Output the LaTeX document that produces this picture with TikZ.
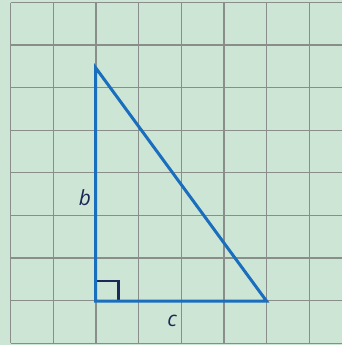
\documentclass[tikz,border=0pt]{standalone}
\usepackage{fontspec}
\setmainfont{Open Sans}
\definecolor{bg}{HTML}{CDE5D4}
\definecolor{gridc}{HTML}{8A8E8A}
\definecolor{tri}{HTML}{1A6EBE}
\definecolor{navy}{HTML}{1C2856}
\tikzset{
  gridline/.style={draw=gridc, line width=1.2bp},
  side/.style={draw=tri, line width=3bp, line join=miter},
  rightmark/.style={draw=navy, line width=2.2bp},
  lbl/.style={text=navy, font=\fontsize{21}{21}\selectfont\itshape, inner sep=0pt}
}
\begin{document}
\begin{tikzpicture}[x=1bp, y=-1bp]
\useasboundingbox (0,0) rectangle (342,345);
\fill[bg] (0,0) rectangle (342,345);
\foreach \i in {0,...,7} {
  \draw[gridline] ({10.5+42.71*\i},2.5) -- ({10.5+42.71*\i},343.2);
}
\foreach \j in {0,...,8} {
  \draw[gridline] (10.5,{2.5+42.59*\j}) -- (342,{2.5+42.59*\j});
}
\coordinate (A) at (95.5,67.5);
\coordinate (B) at (95.5,301);
\coordinate (C) at (266.5,301);
\coordinate (R1) at (95.5,281);
\coordinate (R2) at (118.5,281);
\coordinate (R3) at (118.5,301);
\draw[rightmark] (R1) -- (R2) -- (R3);
\draw[side] (A) -- (B) -- (C) -- cycle;
\node[lbl] (b) at (85,197.5) {b};
\node[lbl] (c) at (172,321) {c};
\end{tikzpicture}
\end{document}
